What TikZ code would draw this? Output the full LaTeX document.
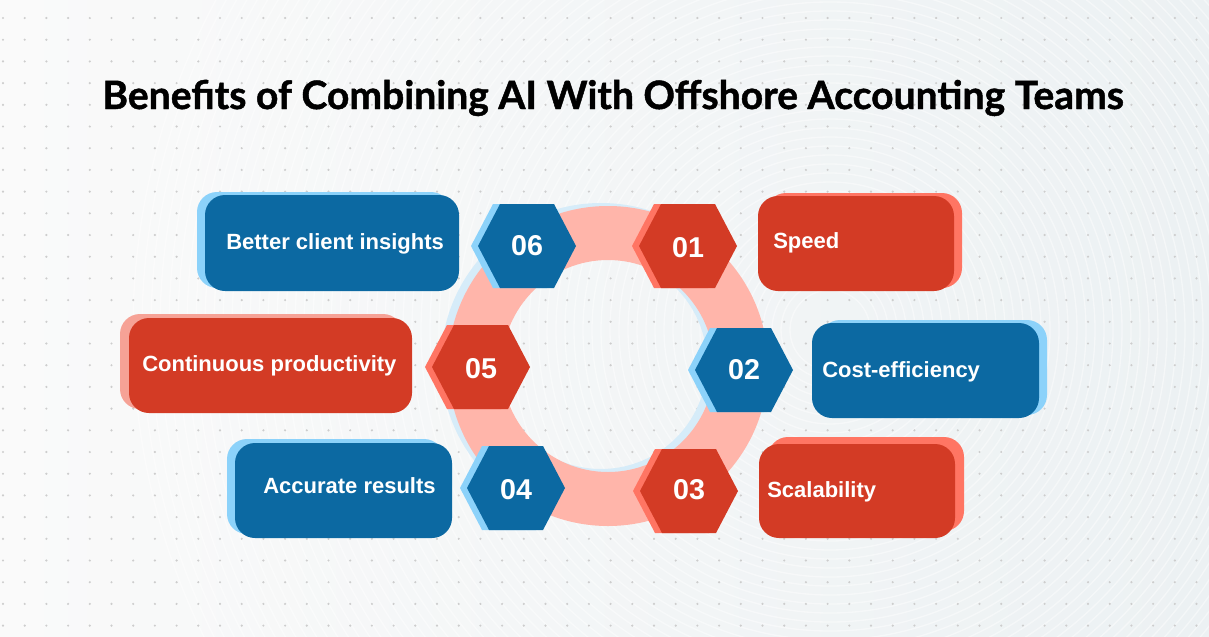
\documentclass[tikz,border=0pt]{standalone}
\usepackage{fontspec}
\setmainfont{Liberation Sans}
\newfontfamily\titlefont[BoldFeatures={FakeBold=1.2}]{Lato}
\definecolor{dblue}{RGB}{12,105,162}
\definecolor{lblue}{RGB}{140,210,250}
\definecolor{dred}{RGB}{211,59,37}
\definecolor{salmon}{RGB}{255,117,99}
\definecolor{pinkshadow}{RGB}{246,162,150}
\definecolor{ringpink}{RGB}{255,181,170}
\definecolor{ringblue}{RGB}{214,236,249}
\definecolor{bgL}{RGB}{250,250,250}
\definecolor{bgR}{RGB}{236,241,243}
\definecolor{dotc}{RGB}{205,205,205}
\newcommand\hexat[3]{\fill[#3] ({#1-49},{#2}) -- ({#1-27},{#2-42}) -- ({#1+27},{#2-42}) -- ({#1+49},{#2}) -- ({#1+27},{#2+42}) -- ({#1-27},{#2+42}) -- cycle;}
\begin{document}
\begin{tikzpicture}[x=0.75pt,y=-0.75pt,
  boxtext/.style={text=white, font=\bfseries\fontsize{16.5}{18}\selectfont, anchor=base west, inner sep=0pt},
  numtext/.style={text=white, font=\bfseries\fontsize{21.5}{24}\selectfont, inner sep=0pt},
  card/.style={rounded corners=15pt}]
% background
\shade[left color=bgL, right color=bgR] (0,0) rectangle (1209,636);
\useasboundingbox (0,0) rectangle (1209,636);
\begin{scope}
\clip (0,0) rectangle (1209,636);
\foreach \r in {40,49,...,700} \draw[white, line width=1pt, opacity=0.45] (830,330) circle (\r);
\end{scope}
\foreach \i in {0,...,55} \foreach \j in {0,...,28} \fill[dotc] ({3+21.7*\i},{18+21.7*\j}) circle (1.2);
% title
\node[font=\titlefont\bfseries\fontsize{29.3}{33}\selectfont, anchor=base, inner sep=0pt] (title) at (613,109) {Benefits of Combining AI With Offshore Accounting Teams};
% ring
\fill[ringblue, even odd rule] (601,363) circle (160) (601,363) circle (106);
\fill[ringpink, even odd rule] (608,366) circle (160) (608,366) circle (106);
% boxes
\fill[lblue, card] (197,192) rectangle (451,288);
\fill[dblue, card] (205,195) rectangle (459,291);
\fill[salmon, card] (766,193) rectangle (962,288);
\fill[dred, card] (758,196) rectangle (954,291);
\fill[pinkshadow, card] (120,314) rectangle (403,409);
\fill[dred, card] (129,318) rectangle (412,413);
\fill[lblue, card] (820,320) rectangle (1047,415);
\fill[dblue, card] (812,323) rectangle (1039,418);
\fill[lblue, card] (227,439) rectangle (444,534);
\fill[dblue, card] (235,443) rectangle (452,538);
\fill[salmon, card] (768,437) rectangle (964,531);
\fill[dred, card] (759,444) rectangle (955,538);
% hexagons
\hexat{520}{246}{lblue}\hexat{527}{246}{dblue}
\hexat{681}{246}{salmon}\hexat{688}{246}{dred}
\hexat{474}{367}{salmon}\hexat{481}{367}{dred}
\hexat{737}{370}{lblue}\hexat{744}{370}{dblue}
\hexat{509}{488}{lblue}\hexat{516}{488}{dblue}
\hexat{682}{491}{salmon}\hexat{689}{491}{dred}
% numbers
\node[numtext] (n6) at (527,246) {06};
\node[numtext] (n1) at (688,248) {01};
\node[numtext] (n5) at (481,369) {05};
\node[numtext] (n2) at (744,370) {02};
\node[numtext] (n4) at (516,490) {04};
\node[numtext] (n3) at (689,490) {03};
% labels
\node[boxtext] (t6) at (226,249) {Better client insights};
\node[boxtext] (t1) at (773,248) {Speed};
\node[boxtext] (t5) at (142,371) {Continuous productivity};
\node[boxtext] (t2) at (822,377) {Cost-efficiency};
\node[boxtext] (t4) at (263,493) {Accurate results};
\node[boxtext] (t3) at (767,497) {Scalability};
\end{tikzpicture}
\end{document}
